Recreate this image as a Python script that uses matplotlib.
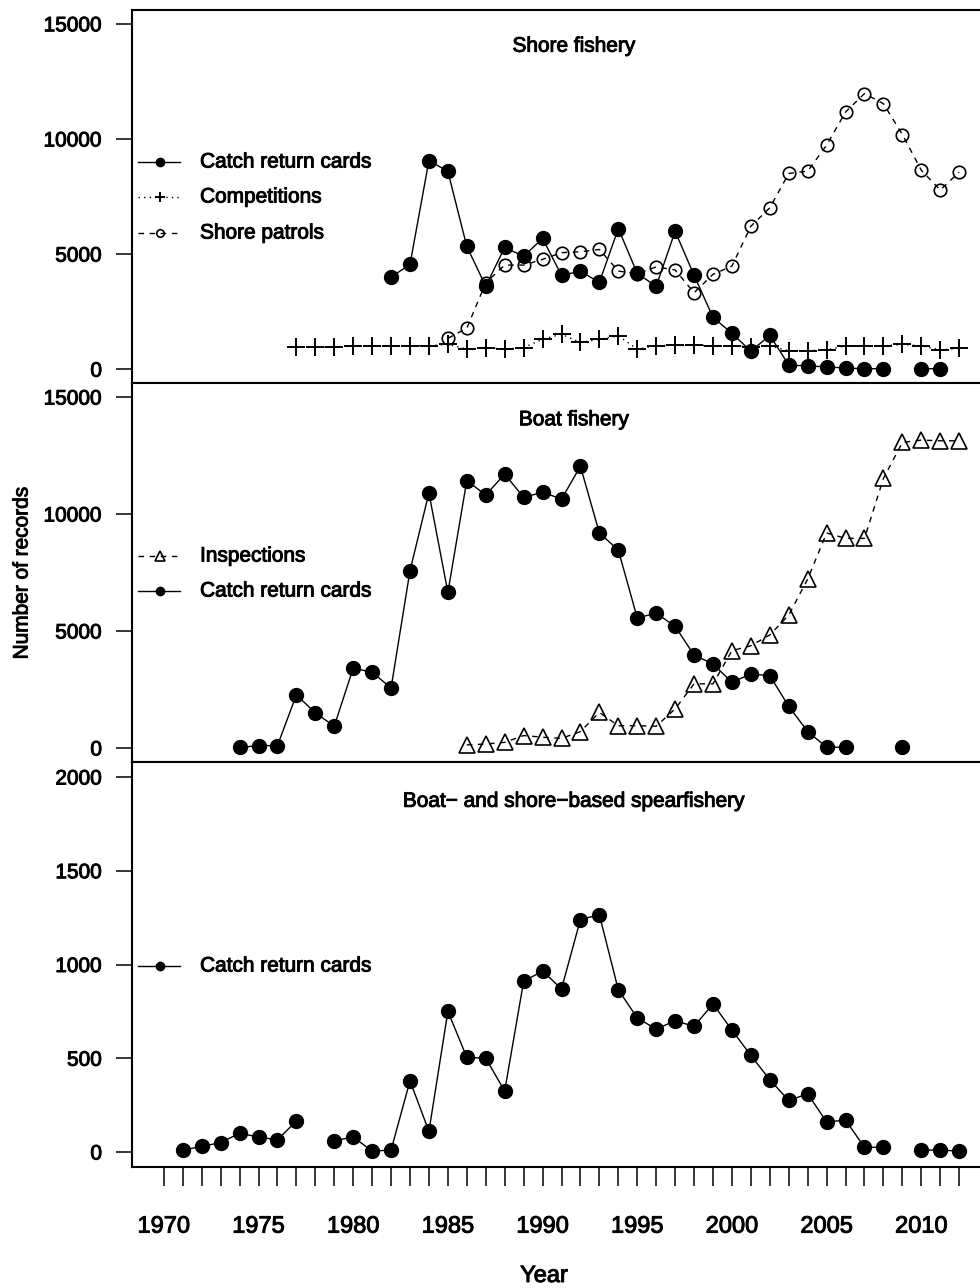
import numpy as np
import matplotlib
matplotlib.use("Agg")
import matplotlib.pyplot as plt
import matplotlib.patheffects as pe

plt.rcParams['font.family'] = ['Liberation Sans', 'DejaVu Sans']

nan = np.nan

# Shore fishery
shore_catch_years = np.arange(1982, 2012)
shore_catch = [4000, 4550, 9060, 8590, 5330, 3600, 5290, 4900, 5680, 4080,
               4250, 3770, 6110, 4160, 3600, 5990, 4080, 2250, 1560, 780,
               1470, 180, 140, 100, 50, 20, 20, nan, 20, 20]
comp_years = np.arange(1977, 2013)
competitions = [950, 950, 960, 1000, 1000, 1020, 1020, 1020, 1080, 870,
                940, 870, 940, 1300, 1520, 1160, 1300, 1450, 870, 1010,
                1050, 1050, 1010, 1010, 980, 1010, 800, 800, 840, 1010,
                1010, 1010, 1080, 1010, 840, 910]
patrol_years = np.arange(1985, 2013)
shore_patrols = [1340, 1780, 3750, 4520, 4520, 4770, 5060, 5100, 5200, 4260,
                 4150, 4440, 4310, 3320, 4120, 4480, 6210, 7010, 8500, 8600,
                 9730, 11170, 11970, 11530, 10190, 8640, 7780, 8560]

# Boat fishery
boat_catch_years = np.arange(1974, 2010)
boat_catch = [20, 100, 100, 2270, 1500, 930, 3410, 3240, 2560, 7580,
              10900, 6650, 11430, 10810, 11710, 10710, 10930, 10640, 12040, 9190,
              8460, 5560, 5760, 5200, 3970, 3590, 2810, 3160, 3090, 1780,
              700, 30, 30, nan, nan, 30]
insp_years = np.arange(1986, 2013)
inspections = [130, 170, 240, 530, 460, 410, 700, 1520, 950, 950,
               930, 1670, 2740, 2740, 4160, 4370, 4830, 5680, 7220, 9190,
               8960, 8960, 11520, 13060, 13160, 13130, 13130]

# Spearfishery
spear_years = np.arange(1971, 2013)
spear_catch = [10, 30, 50, 100, 80, 65, 165, nan, 60, 80,
               5, 10, 380, 110, 750, 505, 500, 325, 910, 965,
               870, 1240, 1265, 865, 715, 655, 700, 670, 790, 650,
               515, 385, 275, 310, 160, 170, 25, 25, nan, 10,
               10, 5]

titles = ["Shore fishery", "Boat fishery", "Boat\u2212 and shore\u2212based spearfishery"]

# slightly heavier text, like the reference
heavy = [pe.withStroke(linewidth=0.7, foreground='black')]

fig = plt.figure(figsize=(9.8, 12.88), dpi=100)
W, H = 980, 1288
left, right = 132, 991
panels = [(10, 383), (383, 762), (762, 1167)]
axes = []
for top, bot in panels:
    ax = fig.add_axes([left / W, 1 - bot / H, (right - left) / W, (bot - top) / H])
    axes.append(ax)

catch_style = dict(color='black', lw=1.0, marker='o', ms=10, mfc='black', mec='black')
comp_style = dict(color='black', lw=1.0, ls=(0, (1, 3)), marker='+', ms=13, mew=1.4)
patrol_style = dict(color='black', lw=1.0, ls=(0, (4, 4)), marker='o', ms=9, mfc='none', mew=1.2)
insp_style = dict(color='black', lw=1.0, ls=(0, (4, 4)), marker='^', ms=11.5, mfc='none', mew=1.2)

ax1, ax2, ax3 = axes
ax1.plot(shore_catch_years, shore_catch, **catch_style)
ax1.plot(comp_years, competitions, **comp_style)
ax1.plot(patrol_years, shore_patrols, **patrol_style)

ax2.plot(insp_years, inspections, **insp_style)
ax2.plot(boat_catch_years, boat_catch, **catch_style)

ax3.plot(spear_years, spear_catch, **catch_style)


def legend_key(ax, yfrac, label, style):
    st = dict(style)
    ms = st.pop('ms')
    ax.plot([0.007, 0.056], [yfrac, yfrac], transform=ax.transAxes,
            clip_on=False, **{k: v for k, v in st.items() if k in ('color', 'lw', 'ls')})
    ax.plot([0.0326], [yfrac], transform=ax.transAxes, ls='none',
            marker=st['marker'], ms=ms * 0.6, color='black',
            mfc=st.get('mfc', 'black'), mew=st.get('mew', 1.0))
    ax.text(0.0792, yfrac, label, transform=ax.transAxes, fontsize=15,
            va='center', ha='left', path_effects=heavy)


legend_key(ax1, 0.5925, "Catch return cards", catch_style)
legend_key(ax1, 0.4987, "Competitions", comp_style)
legend_key(ax1, 0.4021, "Shore patrols", patrol_style)
legend_key(ax2, 0.5435, "Inspections", insp_style)
legend_key(ax2, 0.4512, "Catch return cards", catch_style)
legend_key(ax3, 0.4963, "Catch return cards", catch_style)

for ax, t in zip(axes, titles):
    ax.text(0.5146, 0.903, t, transform=ax.transAxes, fontsize=15,
            ha='center', va='center', path_effects=heavy)

for ax in axes:
    ax.set_xlim(1968.32, 2013.68)
    for s in ax.spines.values():
        s.set_linewidth(1.5)
    ax.tick_params(axis='y', length=11.5, width=1.1, pad=10, labelsize=15)

for ax in (ax1, ax2):
    ax.set_ylim(-600, 15600)
    ax.set_yticks([0, 5000, 10000, 15000])
    ax.tick_params(axis='x', bottom=False, labelbottom=False)

ax3.set_ylim(-80, 2080)
ax3.set_yticks([0, 500, 1000, 1500, 2000])
ax3.set_xticks(np.arange(1970, 2013))
ax3.set_xticklabels([str(y) if y % 5 == 0 else "" for y in range(1970, 2013)])
ax3.tick_params(axis='x', length=14, width=1.1, pad=21, labelsize=17)

for ax in axes:
    for lab in ax.get_xticklabels() + ax.get_yticklabels():
        lab.set_path_effects(heavy)

fig.text(22 / W, 1 - 573 / H, "Number of records", rotation=90, fontsize=15,
         ha='center', va='center', path_effects=heavy)
fig.text(544 / W, 1 - 1276 / H, "Year", fontsize=17, ha='center', va='center',
         path_effects=heavy)

fig.savefig("out.png", dpi=100)
